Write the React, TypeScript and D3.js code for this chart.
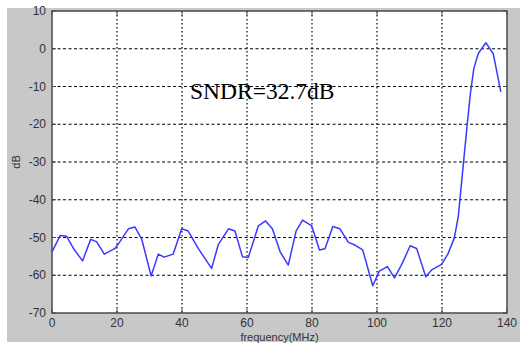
import React from "react";
import * as d3 from "d3";

const freq = [0, 2.5, 4.5, 6.6, 9.4, 11.9, 13.7, 16.1, 19.4, 20.9, 23.5, 25.5, 27.6, 30.5, 32.7, 34.5, 37.3, 39.9, 41.9, 45, 49.1, 51.2, 54.3, 56.3, 58.6, 60.4, 63.5, 65.7, 67.8, 70.2, 72.7, 75.1, 77.1, 79.9, 82.3, 84, 86.4, 88.6, 91.2, 93.2, 95.6, 98.7, 100.7, 103.2, 105.4, 107.8, 110.2, 112.2, 115, 116.8, 119.9, 121.9, 123.8, 125, 126.6, 127.8, 128.8, 129.8, 131.2, 133.5, 135.8, 138.1];
const db = [-53.8, -49.5, -49.7, -52.9, -56.2, -50.5, -51.1, -54.4, -52.9, -51.1, -47.7, -47.2, -50.4, -60.2, -54.4, -55.2, -54.4, -47.7, -48.3, -52.9, -58.2, -51.8, -47.7, -48.3, -55.1, -55.3, -46.9, -45.6, -47.7, -53.8, -57.3, -48.3, -45.4, -46.9, -53.3, -53.0, -47.1, -47.7, -51.3, -52, -53.3, -62.8, -58.9, -57.7, -60.7, -56.8, -52.2, -52.9, -60.4, -58.6, -57.1, -54.2, -50.1, -44.5, -30.3, -19.7, -11.4, -5.2, -1.2, 1.6, -1.4, -11.4];
const xTicks = [0, 20, 40, 60, 80, 100, 120, 140];
const yTicks = [10, 0, -10, -20, -30, -40, -50, -60, -70];
const annotation = "SNDR=32.7dB";
const xLabel = "frequency(MHz)";
const yLabel = "dB";

export default function App() {
  const W = 527, H = 344;
  const left = 52, right = 507, top = 11, bottom = 313;
  const x = d3.scaleLinear().domain([0, 140]).range([left, right]);
  const y = d3.scaleLinear().domain([-70, 10]).range([bottom, top]);
  const pts = freq.map((f, i) => [f, db[i]] as [number, number]);
  const line = d3.line<[number, number]>().x(d => x(d[0])).y(d => y(d[1]));
  const font = "'Liberation Sans', Arial, sans-serif";
  return (
    <div style={{ position: "absolute", left: 0, top: 0 }}>
      <svg width={W} height={H} style={{ display: "block" }}>
        <rect x={0} y={0} width={W} height={H} fill="#ffffff" />
        <rect x={7} y={8} width={513} height={334} fill="#c8c8c8" />
        <rect x={left} y={top} width={right - left} height={bottom - top} fill="#ffffff" />
        {xTicks.slice(1, -1).map(t => (
          <line key={"gx" + t} x1={x(t)} x2={x(t)} y1={top} y2={bottom} stroke="#000" strokeWidth={1.2} strokeDasharray="1.5,2.5" />
        ))}
        {yTicks.slice(1, -1).map(t => (
          <line key={"gy" + t} x1={left} x2={right} y1={y(t)} y2={y(t)} stroke="#000" strokeWidth={1.1} strokeDasharray="3,2.5" />
        ))}
        {xTicks.map(t => (
          <g key={"tx" + t}>
            <line x1={x(t)} x2={x(t)} y1={bottom} y2={bottom - 4} stroke="#444" />
            <line x1={x(t)} x2={x(t)} y1={top} y2={top + 4} stroke="#444" />
            <text x={x(t)} y={bottom + 14} textAnchor="middle" fontFamily={font} fontSize={12} fill="#333">{t}</text>
          </g>
        ))}
        {yTicks.map(t => (
          <g key={"ty" + t}>
            <line x1={left} x2={left + 4} y1={y(t)} y2={y(t)} stroke="#444" />
            <line x1={right} x2={right - 4} y1={y(t)} y2={y(t)} stroke="#444" />
            <text x={left - 6} y={y(t) + 4} textAnchor="end" fontFamily={font} fontSize={12} fill="#333">{t}</text>
          </g>
        ))}
        <rect x={left} y={top} width={right - left} height={bottom - top} fill="none" stroke="#4a4a4a" strokeWidth={1.5} />
        <path d={line(pts) || ""} fill="none" stroke="#3a3aff" strokeWidth={1.5} strokeLinejoin="round" />
        <text x={190} y={99} fontFamily="'Liberation Serif', 'Times New Roman', serif" fontSize={23.5} fill="#000">{annotation}</text>
        <text x={(left + right) / 2} y={341} textAnchor="middle" fontFamily={font} fontSize={11} fill="#333">{xLabel}</text>
        <text transform={`translate(20,${(top + bottom) / 2}) rotate(-90)`} textAnchor="middle" fontFamily={font} fontSize={11} fill="#333">{yLabel}</text>
      </svg>
    </div>
  );
}
